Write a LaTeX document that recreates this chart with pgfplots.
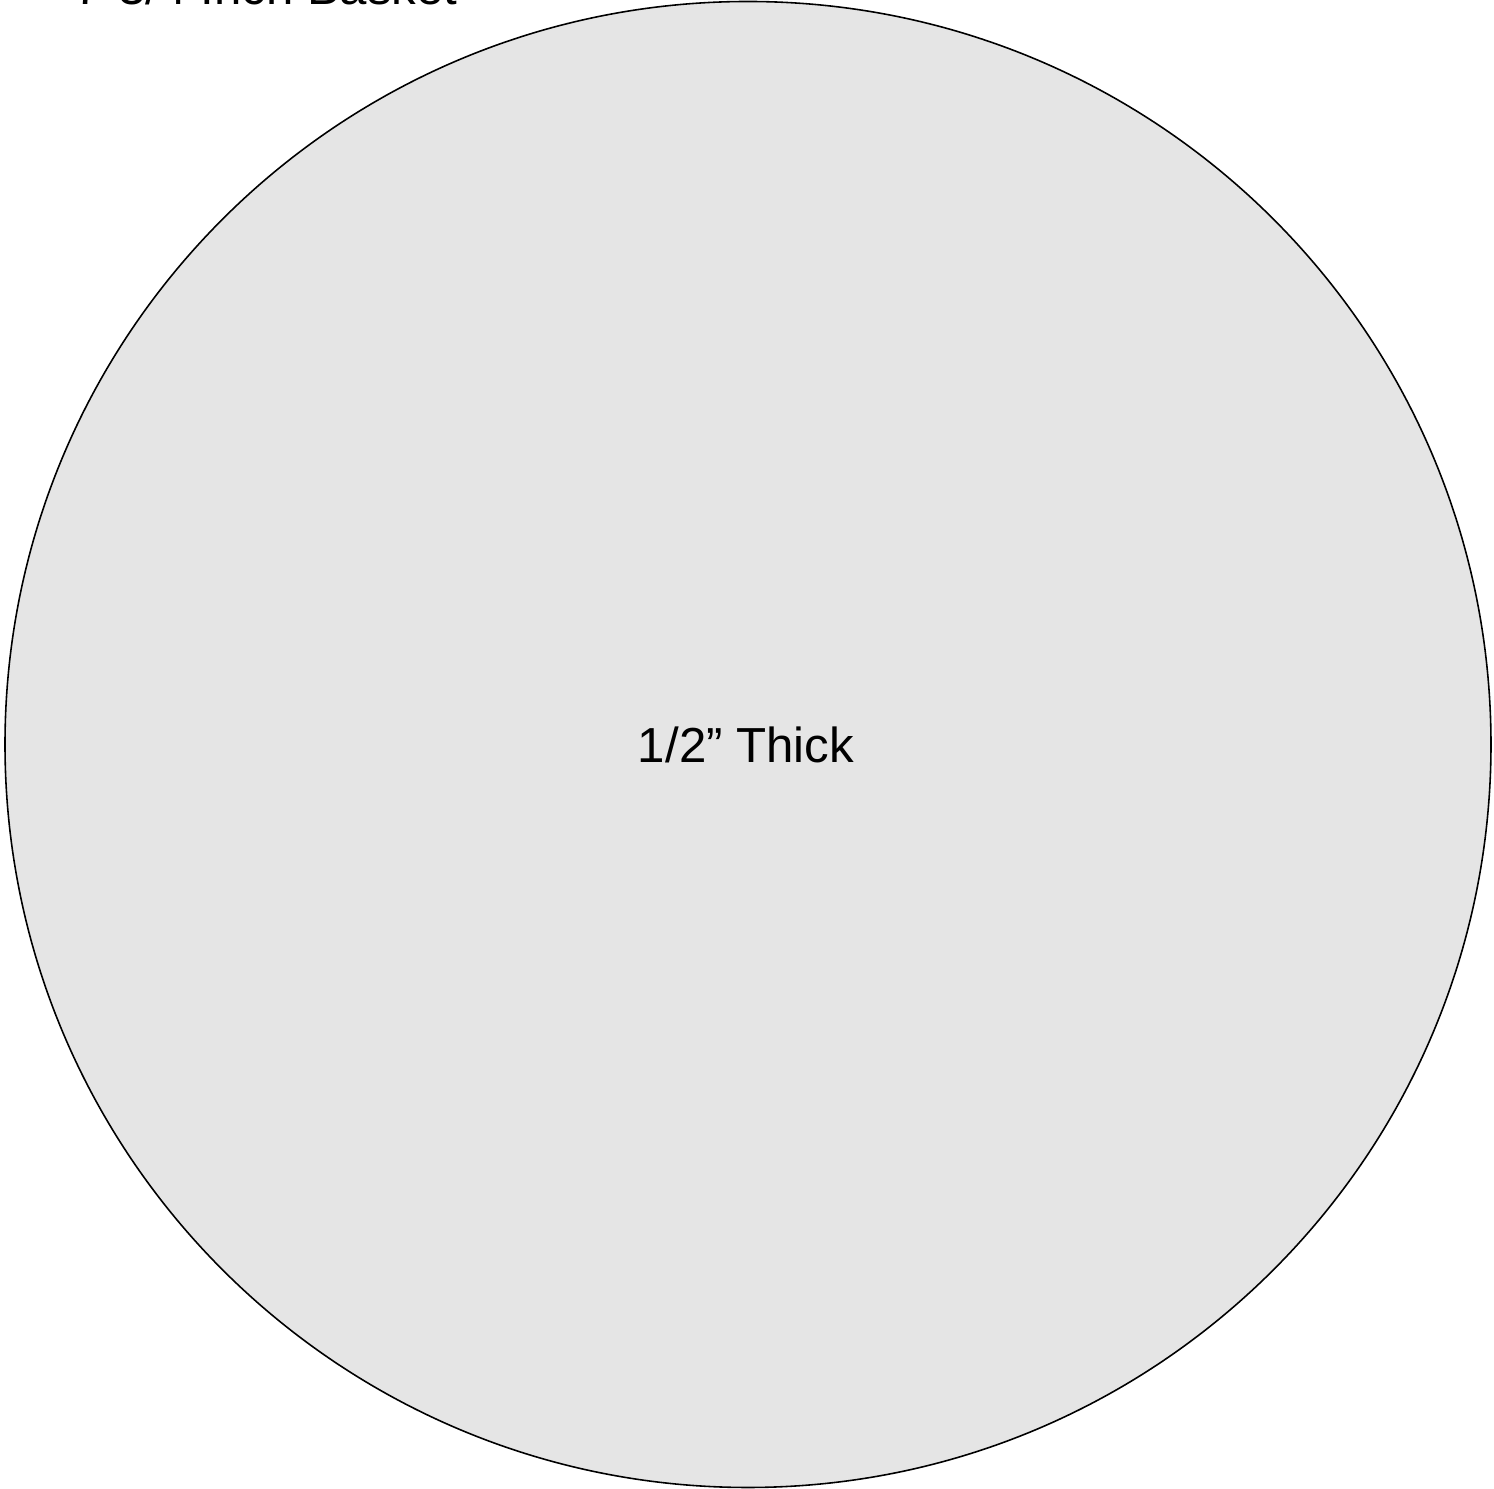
\documentclass[border=0pt]{standalone}
\usepackage{pgfplots}
\pgfplotsset{compat=1.18}
\usepackage{fontspec}
\setmainfont{Liberation Sans}
\definecolor{discgray}{RGB}{229,229,229}
\begin{document}
\begin{tikzpicture}
\begin{axis}[
  at={(0,0)}, anchor=south west,
  width=14.94cm, height=14.89cm, scale only axis,
  xmin=0, xmax=1494, ymin=0, ymax=1489,
  hide axis, clip=false,
]
% disc: centre (748, 744.5), radius 743 (pixel units)
\addplot[draw=none] coordinates {(748,744.5)};
\draw[fill=discgray, draw=black, line width=0.45pt] (axis cs:748,744.5) circle[radius=743];
\node[anchor=base, font=\fontsize{14pt}{17pt}\selectfont] at (axis cs:746,726) {1/2” Thick};
\node[anchor=base east, font=\fontsize{14pt}{17pt}\selectfont] at (axis cs:470,1484) {7-3/4 Inch Basket};
\end{axis}
\pgfresetboundingbox
\useasboundingbox (0,0) rectangle (14.94cm,14.89cm);
\end{tikzpicture}
\end{document}
